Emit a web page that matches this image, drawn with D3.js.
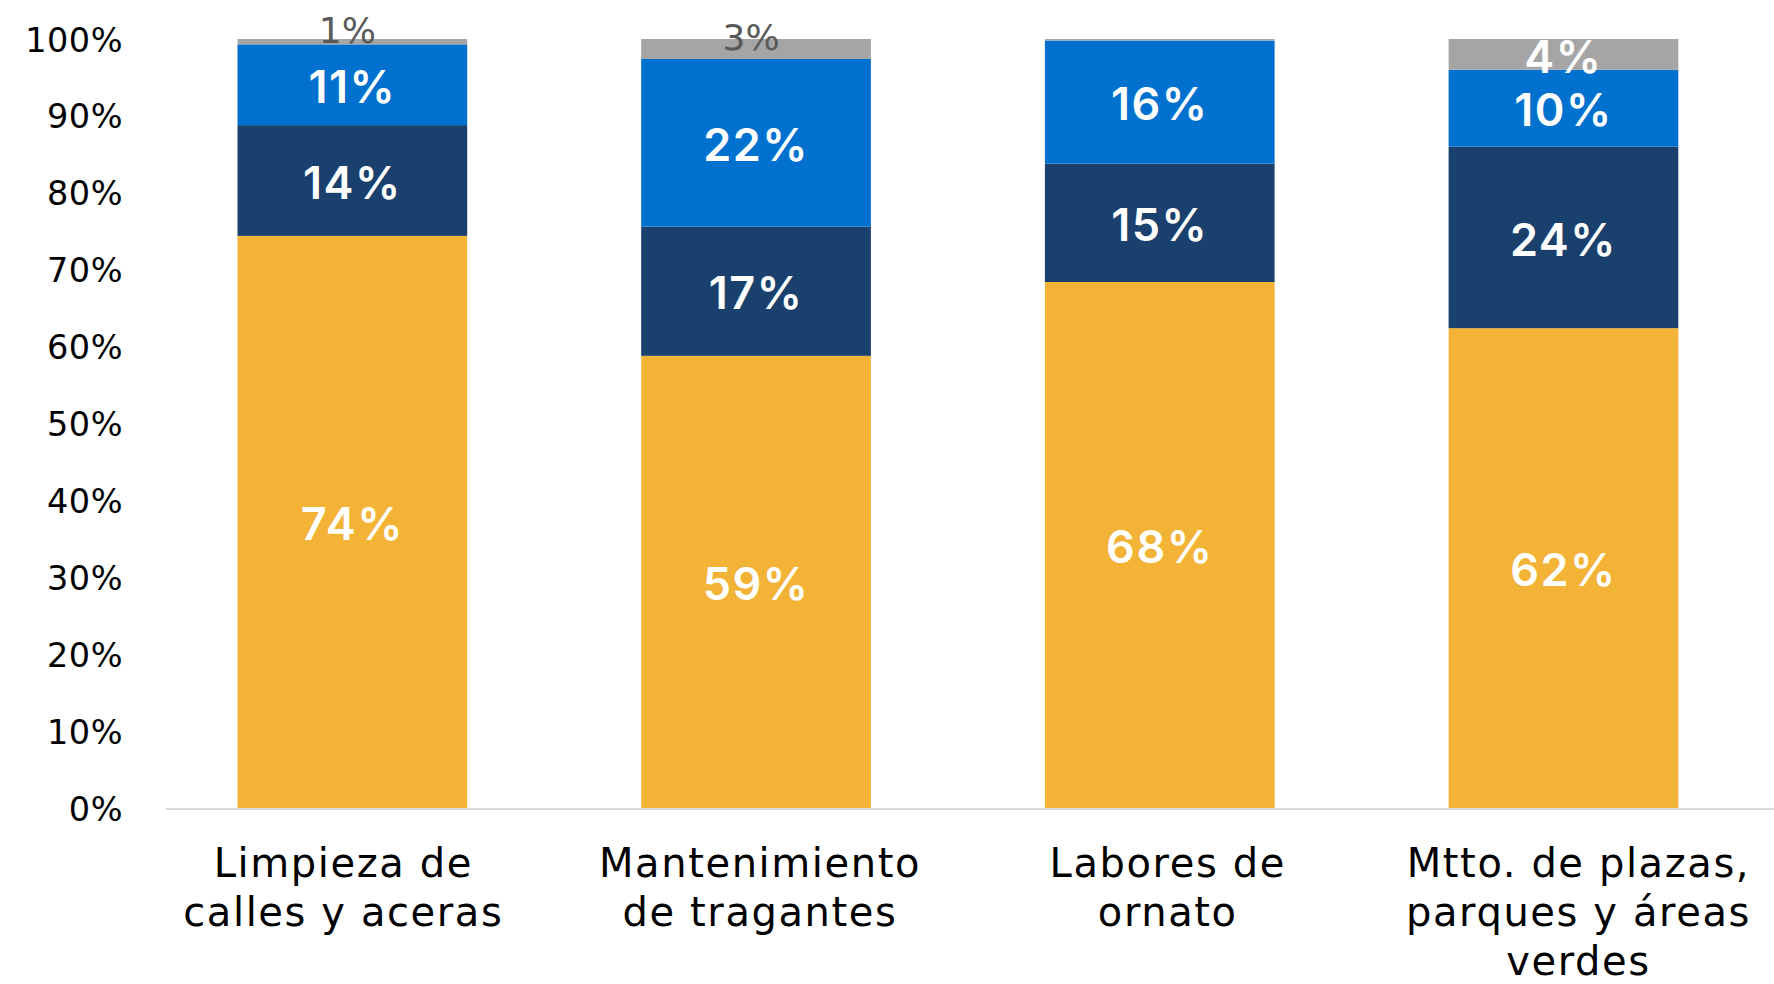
<!DOCTYPE html>
<html>
<head>
<meta charset="utf-8">
<script src="https://cdn.jsdelivr.net/npm/d3@7"></script>
<style>
  html, body { margin: 0; padding: 0; background: #fff; }
  svg { display: block; font-family: "DejaVu Sans", sans-serif; }
</style>
</head>
<body>
<svg id="chart" width="1774" height="984"></svg>
<script>
// ---- data ----
const categories = [
  ["Limpieza de", "calles y aceras"],
  ["Mantenimiento", "de tragantes"],
  ["Labores de", "ornato"],
  ["Mtto. de plazas,", "parques y áreas", "verdes"]
];
const seriesKeys = ["s1", "s2", "s3", "s4"];
const s1Values = [74.4, 58.8, 68.4, 62.4];   // yellow
const s2Values = [14.4, 16.8, 15.4, 23.6];   // dark navy
const s3Values = [10.5, 21.8, 16.0, 10.0];   // blue
const s4Values = [0.7, 2.6, 0.2, 4.0];       // gray
const yTicks = [0, 10, 20, 30, 40, 50, 60, 70, 80, 90, 100];
const colors = { s1: "#F3B336", s2: "#1A416D", s3: "#0071CE", s4: "#A5A5A5" };

// layout-only nudges for category labels (px)
const catNudge = [-9, 4, 8, 15];

// ---- build table ----
const rows = categories.map((c, i) => ({
  idx: i, s1: s1Values[i], s2: s2Values[i], s3: s3Values[i], s4: s4Values[i]
}));

const svg = d3.select("#chart");
const yTop = 39, yBottom = 808;

const x = d3.scaleBand()
  .domain(d3.range(categories.length))
  .range([150.5, 1765.3])
  .paddingInner(0.431)
  .paddingOuter(0.2155);

const y = d3.scaleLinear().domain([0, 100]).range([yBottom, yTop]);

const stacked = d3.stack().keys(seriesKeys)(rows);

// y-axis labels (no line)
const yAxis = d3.axisLeft(y).tickValues(yTicks).tickFormat(d => d + "%").tickSize(0).tickPadding(0);
const gy = svg.append("g").attr("transform", "translate(123,0)").call(yAxis);
gy.select(".domain").remove();
gy.selectAll("text")
  .attr("fill", "#000")
  .style("font-family", "'DejaVu Sans', sans-serif")
  .style("font-size", "33.5px")
  .style("letter-spacing", "0.5px")
  .attr("dy", "0.36em");

// bars
const layers = svg.append("g").selectAll("g")
  .data(stacked).join("g")
  .attr("fill", d => colors[d.key]);

layers.selectAll("rect")
  .data(d => d.map(v => ({ key: d.key, v })))
  .join("rect")
  .attr("x", d => x(d.v.data.idx))
  .attr("width", x.bandwidth())
  .attr("y", d => y(d.v[1]))
  .attr("height", d => y(d.v[0]) - y(d.v[1]));

// x axis baseline
svg.append("line")
  .attr("x1", 166).attr("x2", 1774)
  .attr("y1", y(0) + 1).attr("y2", y(0) + 1)
  .attr("stroke", "#D9D9D9").attr("stroke-width", 2);

// category labels
const catG = svg.append("g");
categories.forEach((lines, i) => {
  const t = catG.append("text")
    .attr("text-anchor", "middle")
    .attr("fill", "#000")
    .style("font-family", "'DejaVu Sans', sans-serif")
    .style("font-size", "40px")
    .style("letter-spacing", "1.6px");
  lines.forEach((ln, j) => {
    t.append("tspan")
      .attr("x", x(i) + x.bandwidth() / 2 + catNudge[i])
      .attr("y", 877 + j * 49)
      .text(ln);
  });
});

// data labels
const labG = svg.append("g");
stacked.forEach(layer => {
  layer.forEach(v => {
    const val = v[1] - v[0];
    const r = Math.round(val);
    if (r < 1) return;
    const cx = x(v.data.idx) + x.bandwidth() / 2;
    const cy = (y(v[0]) + y(v[1])) / 2;
    const small = layer.key === "s4" && val < 3.5;
    if (small) {
      labG.append("text")
        .attr("x", cx - 5)
        .attr("y", cy - 12)
        .attr("dy", "0.36em")
        .attr("text-anchor", "middle")
        .attr("fill", "#595959")
        .style("font-family", "'DejaVu Sans', sans-serif")
        .style("font-size", "36px")
        .text(r + "%");
    } else {
      labG.append("text")
        .attr("x", cx)
        .attr("y", cy + 2)
        .attr("dy", "0.36em")
        .attr("text-anchor", "middle")
        .attr("fill", "#fff")
        .style("font-family", "Inter, sans-serif")
        .style("font-size", "45px")
        .style("font-weight", 600)
        .style("letter-spacing", "1.5px")
        .text(r + "%");
    }
  });
});
</script>
</body>
</html>
